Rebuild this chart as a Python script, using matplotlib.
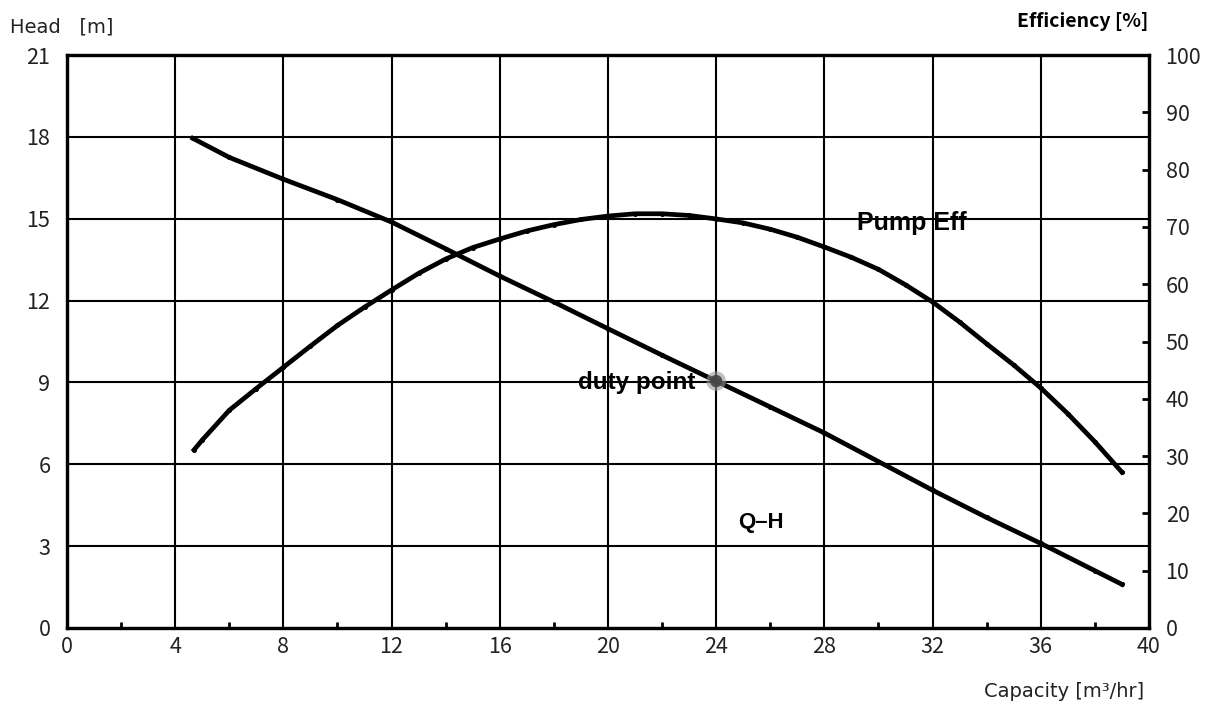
import matplotlib.pyplot as plt

# Q-H curve (capacity m3/hr, head m)
qh_x = [4.65, 6, 8, 10, 12, 14, 16, 18, 20, 22, 24, 26, 28, 30, 32, 34, 36, 38, 39]
qh_y = [17.95, 17.25, 16.45, 15.7, 14.88, 13.9, 12.9, 11.95, 10.97, 10.0, 9.05, 8.1, 7.15, 6.1, 5.05, 4.05, 3.1, 2.1, 1.6]

# efficiency curve (capacity, %)
eff_x = [4.7, 5, 6, 7, 8, 9, 10, 11, 12, 13, 14, 15, 16, 17, 18, 19, 20, 21, 22, 23,
         24, 25, 26, 27, 28, 29, 30, 31, 32, 33, 34, 35, 36, 37, 38, 39]
eff_y = [31.1, 32.8, 38.0, 41.8, 45.5, 49.2, 52.8, 56.0, 59.0, 61.9, 64.4, 66.4, 67.9, 69.3, 70.4, 71.3, 71.9, 72.3, 72.3, 72.0,
         71.4, 70.7, 69.6, 68.2, 66.5, 64.7, 62.6, 59.9, 56.9, 53.4, 49.6, 45.9, 41.9, 37.4, 32.5, 27.2]

duty_q = 24
duty_h = 9.05

head_ticks = [0, 3, 6, 9, 12, 15, 18, 21]
eff_ticks = [0, 10, 20, 30, 40, 50, 60, 70, 80, 90, 100]
cap_ticks = [0, 4, 8, 12, 16, 20, 24, 28, 32, 36, 40]
cap_minor = [2, 6, 10, 14, 18, 22, 26, 30, 34, 38]

plt.rcParams['font.family'] = ['Noto Sans CJK KR', 'DejaVu Sans']

fig = plt.figure(figsize=(12.13, 7.06), dpi=100)
ax = fig.add_axes([0.0552, 0.1105, 0.892, 0.8115])
ax2 = ax.twinx()

ax.set_xlim(0, 40)
ax.set_ylim(0, 21)
ax2.set_ylim(0, 100)

ax.set_xticks(cap_ticks)
ax.set_xticks(cap_minor, minor=True)
ax.set_yticks(head_ticks)
ax2.set_yticks(eff_ticks)

# grid
for x in cap_ticks[1:-1]:
    ax.axvline(x, color='black', lw=1.5, zorder=1)
for y in head_ticks[1:-1]:
    ax.axhline(y, color='black', lw=1.5, zorder=1)

for s in list(ax.spines.values()) + list(ax2.spines.values()):
    s.set_linewidth(2.3)

ax.tick_params(axis='x', which='major', length=0, pad=6, labelsize=15.5, labelcolor='#222222')
ax.tick_params(axis='x', which='minor', direction='in', length=4, width=2)
ax.tick_params(axis='y', length=0, pad=12, labelsize=15.5, labelcolor='#222222')
ax2.tick_params(axis='y', direction='in', length=5, width=2, pad=12, labelsize=15.5, labelcolor='#222222')

ax.plot(qh_x, qh_y, color='black', lw=3.4, marker='o', markersize=2.6, zorder=3)
ax2.plot(eff_x, eff_y, color='black', lw=3.4, marker='o', markersize=2.6, zorder=3)

# blurry duty point
ax.scatter([duty_q], [duty_h], s=200, color='#999999', alpha=0.6, zorder=4, edgecolors='none')
ax.scatter([duty_q], [duty_h], s=80, color='#444444', alpha=0.9, zorder=4, edgecolors='none')

ax.text(23.25, 9.0, 'duty point', fontsize=17.5, fontweight='bold', ha='right', va='center',
        family=['Liberation Sans'], zorder=5)
ax.text(29.2, 14.85, 'Pump Eff', fontsize=18, fontweight='bold', ha='left', va='center',
        family=['Liberation Sans'], zorder=5)
ax.text(24.8, 3.85, 'Q\u2013H', fontsize=16, fontweight='bold', ha='left', va='center',
        family=['Liberation Sans'], zorder=5)

fig.text(0.008, 0.962, 'Head   [m]', fontsize=14, ha='left', va='center', color='#222222',
         family=['DejaVu Sans'])
fig.text(0.947, 0.970, 'Efficiency [%]', fontsize=14, ha='right', va='center', fontweight='bold')
fig.text(0.943, 0.02, 'Capacity [m\u00b3/hr]', fontsize=14, ha='right', va='center', color='#222222',
         family=['DejaVu Sans'])

fig.savefig('out.png', dpi=100)
